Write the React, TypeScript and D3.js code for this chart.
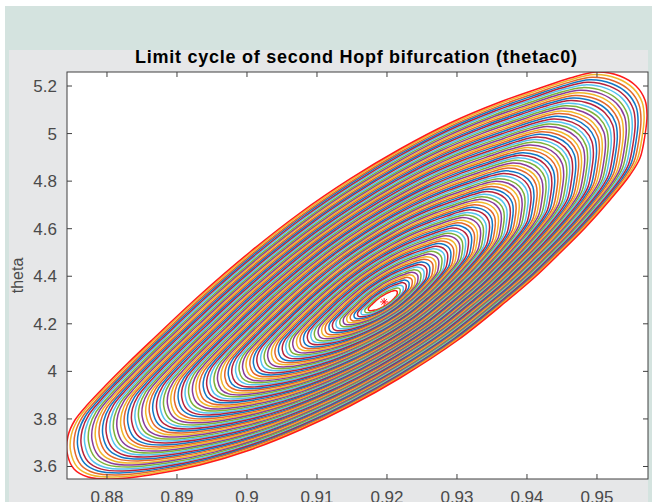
import React from 'react';
import * as d3 from 'd3';

// ---- data ----
const xTicks = [0.88, 0.89, 0.9, 0.91, 0.92, 0.93, 0.94, 0.95];
const yTicks = [3.6, 3.8, 4, 4.2, 4.4, 4.6, 4.8, 5, 5.2];
const xDomain = [0.87429, 0.95729];
const yDomain = [3.5474, 5.2589];

// equilibrium (red star)
const equilibriumX = 0.9196;
const equilibriumY = 4.292;

// outermost limit cycle, points read around the curve
const outerCycleX = [
  0.95, 0.95329, 0.95558, 0.95686, 0.95715, 0.95686, 0.95615, 0.95472,
  0.95186, 0.94829, 0.94472, 0.94115, 0.93729, 0.93015, 0.92186, 0.91472,
  0.90758, 0.90043, 0.89329, 0.88615, 0.88043, 0.87729, 0.87529, 0.87429,
  0.87443, 0.87543, 0.87729, 0.87972, 0.883, 0.88643, 0.89329, 0.90043,
  0.90758, 0.91472, 0.92186, 0.929, 0.93615, 0.94186, 0.94615,
];
const outerCycleY = [
  5.2589, 5.2421, 5.2, 5.1412, 5.0781, 4.994, 4.8973, 4.8258,
  4.7207, 4.6029, 4.4978, 4.3969, 4.3001, 4.1319, 3.9721, 3.8544,
  3.7535, 3.6694, 3.6063, 3.5642, 3.5474, 3.5558, 3.5895, 3.6609,
  3.7282, 3.7955, 3.8628, 3.9385, 4.0352, 4.1319, 4.3212, 4.502,
  4.666, 4.809, 4.9351, 5.0445, 5.1328, 5.1916, 5.2337,
];

// relative size of each computed cycle (innermost to outermost)
const cycleScales = [
  0.05, 0.061, 0.073, 0.084, 0.095, 0.107, 0.118, 0.129, 0.14, 0.152,
  0.163, 0.174, 0.186, 0.197, 0.208, 0.22, 0.231, 0.242, 0.254, 0.265,
  0.276, 0.288, 0.299, 0.31, 0.321, 0.333, 0.344, 0.355, 0.367, 0.378,
  0.389, 0.401, 0.412, 0.423, 0.435, 0.446, 0.457, 0.468, 0.48, 0.491,
  0.502, 0.514, 0.525, 0.536, 0.548, 0.559, 0.57, 0.582, 0.593, 0.604,
  0.616, 0.627, 0.638, 0.649, 0.661, 0.672, 0.683, 0.695, 0.706, 0.717,
  0.729, 0.74, 0.751, 0.763, 0.774, 0.785, 0.796, 0.808, 0.819, 0.83,
  0.842, 0.853, 0.864, 0.876, 0.887, 0.898, 0.91, 0.921, 0.932, 0.944,
  0.955, 0.966, 0.977, 0.989, 1.0,
];

const lineColors = ['#1177C4', '#E4672A', '#F0B62A', '#8A3C9A', '#7DB23A', '#55C2EE', '#B8223A'];
const highlightColor = '#FF1A1A';

const titleText = 'Limit cycle of second Hopf bifurcation (thetac0)';
const yLabelText = 'theta';

export default function App() {
  const W = 652;
  const H = 502;
  const left = 67, right = 648, top = 72, bottom = 479;

  const x = d3.scaleLinear().domain(xDomain).range([left, right]);
  const y = d3.scaleLinear().domain(yDomain).range([bottom, top]);

  const line = d3
    .line<[number, number]>()
    .x((d) => x(d[0]))
    .y((d) => y(d[1]))
    .curve(d3.curveCatmullRomClosed.alpha(0.5));

  const cycles = cycleScales.map((s) =>
    outerCycleX.map((ox, i) => [
      equilibriumX + s * (ox - equilibriumX),
      equilibriumY + s * (outerCycleY[i] - equilibriumY),
    ] as [number, number])
  );

  const font = "'Liberation Sans', Arial, Helvetica, sans-serif";
  const axisColor = '#404040';
  const labelColor = '#4a4a4a';

  const sx = x(equilibriumX);
  const sy = y(equilibriumY);
  const r = 4;

  return (
    <svg
      width={W}
      height={H}
      style={{ position: 'absolute', left: 0, top: 0, display: 'block' }}
      fontFamily={font}
    >
      <rect x={0} y={0} width={W} height={H} fill="#ffffff" />
      <rect x={5} y={6} width={W - 5} height={H - 6} fill="#d4e3df" />
      <rect x={9} y={50} width={639} height={H - 50} fill="#e6e7e8" />
      <rect x={left} y={top} width={right - left} height={bottom - top} fill="#ffffff" />

      <defs>
        <clipPath id="plotclip">
          <rect x={left} y={top} width={right - left} height={bottom - top} />
        </clipPath>
      </defs>

      <g clipPath="url(#plotclip)">
        {cycles.map((c, k) => {
          const isEdge = k === 0 || k === cycles.length - 1;
          const color = isEdge ? highlightColor : lineColors[(k + 3) % lineColors.length];
          return (
            <path key={k} d={line(c) || ''} fill="none" stroke={color} strokeWidth={1.5} />
          );
        })}
        <g stroke={highlightColor} strokeWidth={1}>
          <line x1={sx - r} y1={sy} x2={sx + r} y2={sy} />
          <line x1={sx} y1={sy - r} x2={sx} y2={sy + r} />
          <line x1={sx - r * 0.7} y1={sy - r * 0.7} x2={sx + r * 0.7} y2={sy + r * 0.7} />
          <line x1={sx - r * 0.7} y1={sy + r * 0.7} x2={sx + r * 0.7} y2={sy - r * 0.7} />
        </g>
      </g>

      {/* axes box */}
      <rect
        x={left}
        y={top}
        width={right - left}
        height={bottom - top}
        fill="none"
        stroke={axisColor}
        strokeWidth={1}
      />

      {/* x ticks */}
      {xTicks.map((t) => (
        <g key={'x' + t}>
          <line x1={x(t)} x2={x(t)} y1={bottom} y2={bottom - 5} stroke={axisColor} />
          <line x1={x(t)} x2={x(t)} y1={top} y2={top + 5} stroke={axisColor} />
          <text x={x(t)} y={503} textAnchor="middle" fontSize={17} fill={labelColor}>
            {String(t)}
          </text>
        </g>
      ))}

      {/* y ticks */}
      {yTicks.map((t) => (
        <g key={'y' + t}>
          <line x1={left} x2={left + 5} y1={y(t)} y2={y(t)} stroke={axisColor} />
          <line x1={right} x2={right - 5} y1={y(t)} y2={y(t)} stroke={axisColor} />
          <text x={57} y={y(t)} dy="0.35em" textAnchor="end" fontSize={17} fill={labelColor}>
            {String(t)}
          </text>
        </g>
      ))}

      <text
        x={356}
        y={63}
        textAnchor="middle"
        fontSize={18}
        fontWeight="bold"
        fill="#000000"
        textLength={442}
        lengthAdjust="spacing"
      >
        {titleText}
      </text>

      <text
        transform={`translate(23, ${(top + bottom) / 2}) rotate(-90)`}
        textAnchor="middle"
        fontSize={16}
        fill={labelColor}
      >
        {yLabelText}
      </text>
    </svg>
  );
}
